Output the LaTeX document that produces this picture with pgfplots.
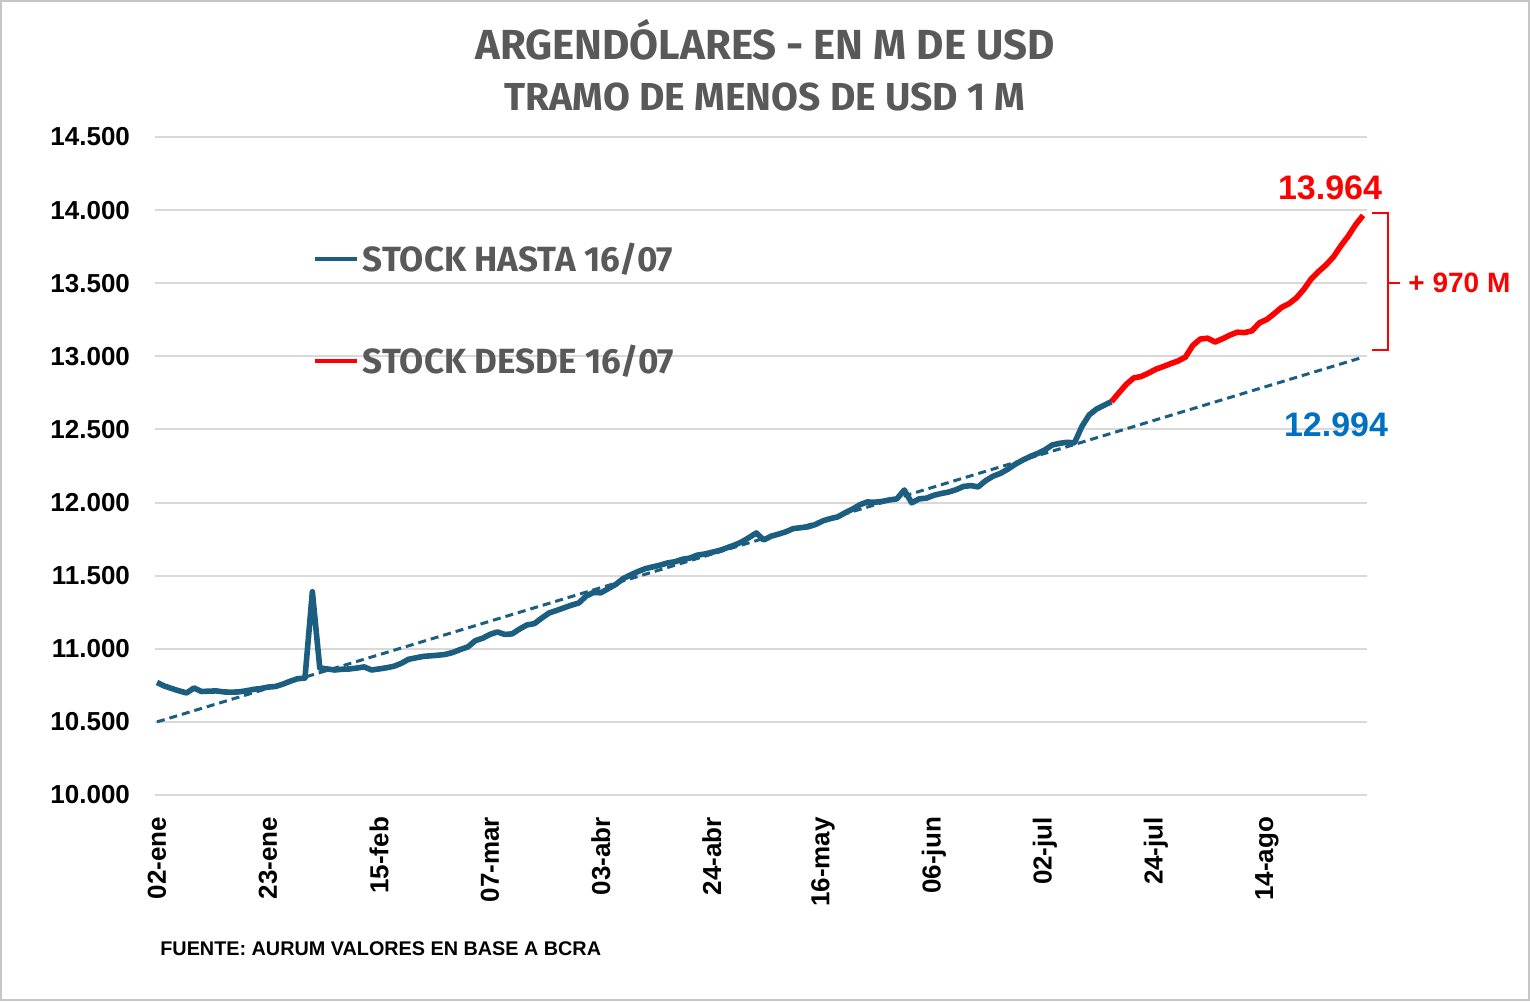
\documentclass[border=0pt]{standalone}
\usepackage{fontspec}
\setmainfont{Liberation Sans}
\newfontfamily\titlefont{Fira Sans}
\usepackage{pgfplots}
\pgfplotsset{compat=1.18}
\definecolor{stockblue}{RGB}{27,94,128}
\definecolor{titlegray}{RGB}{89,89,89}
\definecolor{gridgray}{RGB}{217,217,217}
\definecolor{labelblue}{RGB}{0,112,192}
\begin{document}
\begin{tikzpicture}
\begin{axis}[
  at={(0,0)}, anchor=south west,
  scale only axis, width=606pt, height=329pt,
  xmin=-0.27, xmax=163.54, ymin=10000, ymax=14500,
  axis line style={draw=none},
  major tick length=0pt,
  ymajorgrids, grid style={gridgray, line width=1pt},
  ytick={10000,10500,...,14500},
  scaled y ticks=false,
  /pgf/number format/assume math mode=true,
  yticklabel style={/pgf/number format/.cd, fixed, 1000 sep={.}, /tikz/.cd, font=\bfseries\fontsize{13}{13}\selectfont, xshift=-9pt},
  xtick={0,15,...,150},
  xticklabels={02-ene,23-ene,15-feb,07-mar,03-abr,24-abr,16-may,06-jun,02-jul,24-jul,14-ago},
  xticklabel style={rotate=90, anchor=east, font=\bfseries\fontsize{13}{13}\selectfont, xshift=-7.5pt},
  clip=false,
  legend style={at={(0.130,0.845)}, anchor=north west, draw=none, fill=none, inner sep=0pt,
    row sep=31pt, font=\titlefont\bfseries\fontsize{17.5}{17.5}\selectfont, text=titlegray},
  legend cell align=left,
  legend image code/.code={\draw[#1, line width=2pt] (0pt,0pt) -- (21pt,0pt);},
]
\addplot[stockblue, line width=1.5pt, dash pattern=on 4pt off 2.5pt, forget plot] coordinates {(0,10500) (163,12994)};
\addplot[stockblue, line width=2.8pt, line join=round] coordinates {
(0,10770)(1,10745)(2,10728)(3,10712)(4,10698)(5,10732)(6,10708)(7,10710)(8,10712)(9,10705)
(10,10703)(11,10705)(12,10712)(13,10722)(14,10728)(15,10738)(16,10742)(17,10758)(18,10778)(19,10795)
(20,10800)(21,11390)(22,10869)(23,10862)(24,10855)(25,10860)(26,10862)(27,10868)(28,10876)(29,10855)
(30,10862)(31,10870)(32,10880)(33,10900)(34,10928)(35,10938)(36,10948)(37,10952)(38,10956)(39,10962)
(40,10975)(41,10995)(42,11012)(43,11055)(44,11072)(45,11098)(46,11115)(47,11098)(48,11102)(49,11135)
(50,11163)(51,11172)(52,11210)(53,11245)(54,11262)(55,11280)(56,11298)(57,11313)(58,11360)(59,11385)
(60,11383)(61,11412)(62,11440)(63,11480)(64,11505)(65,11528)(66,11548)(67,11560)(68,11572)(69,11587)
(70,11595)(71,11612)(72,11620)(73,11640)(74,11648)(75,11660)(76,11672)(77,11690)(78,11708)(79,11730)
(80,11760)(81,11792)(82,11744)(83,11770)(84,11784)(85,11800)(86,11822)(87,11828)(88,11834)(89,11850)
(90,11875)(91,11890)(92,11902)(93,11930)(94,11955)(95,11985)(96,12004)(97,12002)(98,12008)(99,12018)
(100,12025)(101,12086)(102,11998)(103,12025)(104,12030)(105,12050)(106,12062)(107,12072)(108,12088)(109,12110)
(110,12116)(111,12107)(112,12150)(113,12180)(114,12200)(115,12228)(116,12262)(117,12290)(118,12315)(119,12335)
(120,12360)(121,12394)(122,12405)(123,12412)(124,12408)(125,12520)(126,12600)(127,12640)(128,12665)(129,12690)
};
\addlegendentry{STOCK HASTA 16/07}
\addplot[red, line width=2.8pt, line join=round] coordinates {
(129,12690)(130,12750)(131,12808)(132,12852)(133,12862)(134,12885)(135,12912)(136,12930)(137,12950)(138,12968)
(139,12995)(140,13075)(141,13118)(142,13124)(143,13098)(144,13120)(145,13145)(146,13165)(147,13162)(148,13175)
(149,13229)(150,13252)(151,13292)(152,13335)(153,13360)(154,13400)(155,13458)(156,13530)(157,13580)(158,13625)
(159,13680)(160,13755)(161,13822)(162,13900)(163,13964)
};
\addlegendentry{STOCK DESDE 16/07}
\end{axis}
\begin{scope}[x=0.5pt, y=-0.5pt, shift={(-77.5pt,397.5pt)}]
\draw[gray!45, line width=1pt] (1,1) rectangle (1529,1000);
\node[text=titlegray, font=\titlefont\bfseries\fontsize{21}{21}\selectfont] at (765,40) {ARGENDÓLARES - EN M DE USD};
\node[text=titlegray, font=\titlefont\bfseries\fontsize{19.5}{19.5}\selectfont] at (765,97) {TRAMO DE MENOS DE USD 1 M};
\node[text=red, font=\bfseries\fontsize{17}{17}\selectfont] at (1330,188) {13.964};
\node[text=labelblue, font=\bfseries\fontsize{17}{17}\selectfont] at (1336,425) {12.994};
\draw[red, line width=1.4pt] (1372,213) -- (1388,213) -- (1388,350) -- (1372,350);
\draw[red, line width=1.4pt] (1388,283) -- (1400,283);
\node[anchor=west, text=red, font=\bfseries\fontsize{14}{14}\selectfont, inner sep=0pt] at (1408,283) {+ 970 M};
\node[anchor=west, font=\bfseries\fontsize{9.9}{9.9}\selectfont, inner sep=0pt] at (160,949) {FUENTE: AURUM VALORES EN BASE A BCRA};
\end{scope}
\pgfresetboundingbox
\path[use as bounding box] (-77.5pt,-103pt) rectangle (687.5pt,397.5pt);
\end{tikzpicture}
\end{document}
